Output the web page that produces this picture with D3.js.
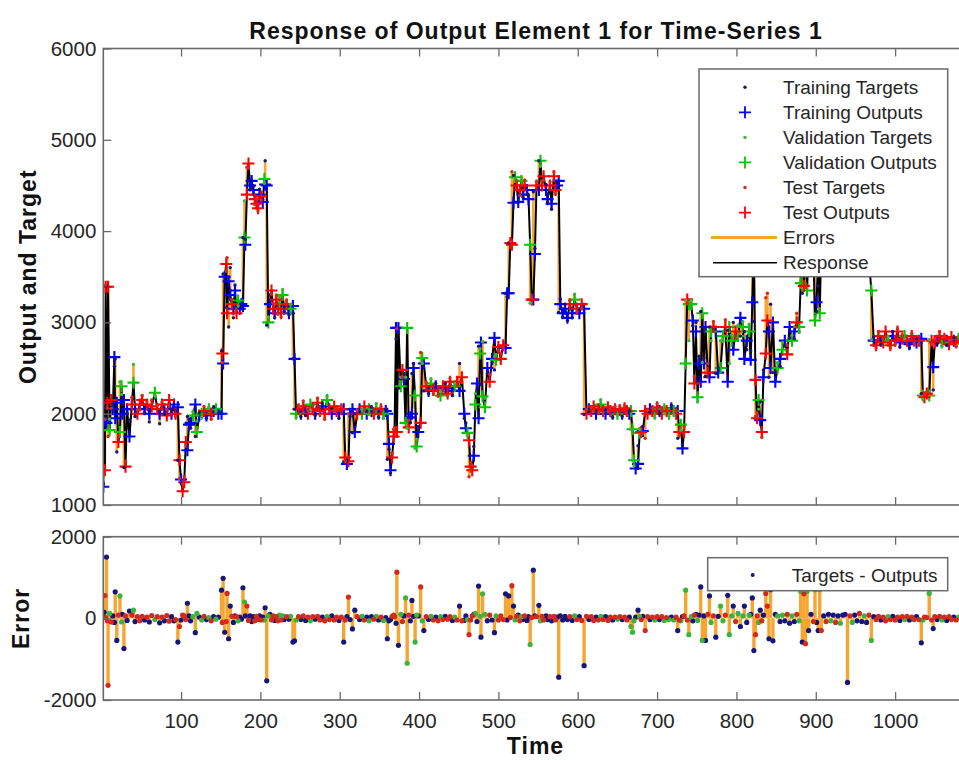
<!DOCTYPE html>
<html>
<head>
<meta charset="utf-8">
<script src="https://cdn.jsdelivr.net/npm/d3@7/dist/d3.min.js"></script>
<style>
  body { margin: 0; background: #fff; }
  svg { display: block; }
  text { font-family: "Liberation Sans", Arial, Helvetica, sans-serif; }
</style>
</head>
<body>
<svg id="chart" width="959" height="760"></svg>
<script>
// Time step of every sample
const timeSteps = [
  2,3,4,5,6,7,8,10,12,14,
  16,17,19,21,23,25,26,28,30,32,
  35,38,40,42,45,48,51,54,57,60,
  63,67,70,73,76,79,82,85,88,91,
  93,96,98,100,102,104,106,108,110,112,
  115,118,120,123,126,129,132,135,138,141,
  144,147,151,152,153,155,157,158,160,162,
  164,166,168,170,172,174,176,178,180,181,
  183,185,187,189,191,193,195,197,199,201,
  203,205,206,208,210,212,214,216,218,220,
  222,224,226,228,230,233,236,238,241,243,
  245,248,251,254,257,260,263,266,269,272,
  275,278,281,284,287,290,293,296,299,302,
  305,307,309,311,313,316,319,322,325,328,
  331,334,337,340,343,346,349,352,355,358,
  360,362,364,366,368,369,371,372,374,377,
  379,381,383,385,387,389,391,393,395,397,
  399,402,404,406,409,412,415,418,421,424,
  427,430,433,436,439,442,445,448,451,454,
  457,459,461,463,465,467,469,471,473,475,
  477,478,480,483,486,489,492,495,497,500,
  503,506,509,511,513,515,517,519,521,523,
  525,527,529,531,533,536,538,540,542,544,
  546,548,551,553,555,557,560,562,565,567,
  570,572,574,576,578,581,584,587,590,593,
  596,599,602,605,608,611,614,617,620,623,
  626,629,632,635,638,641,644,647,650,653,
  656,659,662,665,667,669,671,673,676,678,
  680,682,685,688,691,694,697,700,703,706,
  709,712,715,718,721,724,726,728,730,732,
  734,736,738,740,743,745,747,749,751,753,
  755,757,759,761,764,766,768,771,774,777,
  780,783,786,789,791,794,796,799,802,805,
  808,810,813,816,818,820,822,824,826,828,
  830,832,834,837,839,841,843,846,849,852,
  855,858,861,864,867,870,873,876,879,881,
  883,885,887,889,891,894,897,899,901,903,
  905,907,910,913,916,919,922,925,928,931,
  934,937,940,943,946,949,952,955,958,961,
  964,967,970,973,976,979,982,985,988,991,
  994,997,1000,1003,1006,1009,1012,1015,1018,1021,
  1024,1027,1030,1033,1035,1037,1040,1043,1046,1048,
  1050,1053,1056,1059,1062,1065,1068,1071,1074,1077,
  1080,1083,1086,1089,1092
];

// Network outputs
const outputs = [
  1200,1930,1380,3390,1900,2120,3390,1820,2150,2050,
  2620,1950,2120,1690,1800,2300,2000,2150,1420,2050,
  1750,2100,2340,2050,2000,2100,2150,2050,2100,2000,
  2080,2230,2050,2000,2100,2050,1980,2150,2000,2100,
  2000,2070,1490,1280,1150,1250,1690,1600,1880,1900,
  1980,2100,1800,1980,2000,2030,1980,2050,2000,2030,
  2050,2000,2000,2660,2550,3500,3640,3100,3450,3300,
  3200,3150,3350,3100,3240,3150,3200,3180,3930,3850,
  4400,4740,4500,4550,4450,4350,4300,4250,4400,4380,
  4320,4570,4510,4500,3000,3200,3350,3150,3100,3250,
  3150,3200,3100,3300,3150,3200,3100,3150,3180,2600,
  2000,2050,2000,2080,2030,2000,2100,2050,2000,2120,
  2030,2080,2000,2150,2050,2000,2080,2030,2000,2050,
  2050,1520,1450,1480,2000,2050,1800,2000,2050,2000,
  2080,2000,2050,2030,2000,2060,2000,2050,2000,2030,
  2000,1670,1380,1520,1750,1800,2940,1800,2940,2300,
  2480,2380,1900,2940,1850,1960,2000,2500,2200,1640,
  1800,1900,2610,2550,2300,2250,2330,2260,2300,2250,
  2200,2300,2280,2220,2350,2250,2300,2350,2250,2400,
  2000,1840,1790,1710,1420,1380,1540,2100,2330,1950,
  2660,2780,2190,2070,2500,2350,2600,2830,2590,2730,
  2600,2750,2720,3320,3320,3870,3850,4310,4590,4500,
  4320,4450,4550,4400,4500,4450,4350,3850,3250,3250,
  3750,4500,4450,4770,4500,4600,4450,4350,4500,4300,
  4600,4450,4500,4550,3200,3100,3150,3050,3200,3100,
  3250,3150,3100,3200,3150,2000,2050,2030,2080,2000,
  2050,2100,2030,2000,2070,2030,2000,2050,2000,2040,
  2000,2060,2030,2000,2030,1830,1490,1400,1450,1790,
  1800,1810,2030,2000,2050,2030,2000,2070,2030,2000,
  2050,2030,2000,2060,2030,2000,2030,1800,1880,1620,
  1800,2550,3250,3200,3200,3020,2330,2900,2180,2550,
  2350,3100,2550,2950,2450,2400,2900,2950,2900,2450,
  2500,2850,2950,2350,2950,2800,2700,2900,2850,3050,
  2950,2600,2800,2900,2590,3220,3800,2370,1950,2150,
  1930,1800,2400,2660,3020,2900,2500,3000,2350,2500,
  2600,2700,2800,2650,2950,2800,2900,3000,2950,3430,
  3900,3400,4000,3350,3900,3700,3800,3020,3220,3700,
  3100,3900,4100,4300,4200,4400,4250,4500,4350,4200,
  4100,4300,5300,3800,4000,3900,4100,3950,3800,3900,
  3750,3700,3350,2800,2750,2850,2800,2780,2900,2800,
  2750,2850,2800,2900,2780,2820,2850,2800,2760,2850,
  2800,2780,2800,2820,2200,2180,2220,2200,2800,2510,
  2780,2800,2850,2780,2820,2800,2760,2840,2800,2780,
  2820,2800,2850,2800,2780
];

// Targets - Outputs
const errors = [
  30,150,560,20,1500,-60,-1640,120,-90,60,
  -100,650,-540,80,550,-90,100,-740,60,-50,
  180,80,200,-80,40,-60,50,-40,30,-90,
  70,-30,40,-110,30,-60,70,-70,40,-60,
  -30,-580,-200,-40,80,60,-30,370,60,-60,
  40,-350,120,30,-40,50,-30,20,-60,40,
  -20,30,690,-100,980,-340,-80,610,-500,300,
  50,-100,60,40,-60,30,-20,750,400,60,
  300,-50,60,-80,40,-60,50,-30,60,-40,
  30,-40,260,-1530,60,100,-40,60,-50,40,
  -60,80,-40,60,-30,40,-20,50,-580,-550,
  -40,40,-30,60,-50,30,-60,40,-20,50,
  -40,30,-60,40,-30,60,-40,30,-50,30,
  -580,-40,40,520,-30,-260,200,40,-30,50,
  -40,30,-60,40,-20,50,-40,30,-50,20,
  -500,-60,-30,50,80,40,-120,1130,-660,100,
  -80,60,500,-1100,80,-60,440,50,-580,80,
  60,770,-60,-300,40,-30,50,-40,30,-60,
  40,-30,50,-20,40,-50,30,-40,300,-60,
  -50,60,-30,-400,-40,60,100,120,-80,790,
  50,-460,600,100,-60,80,-40,-350,60,-40,
  60,-30,600,-40,550,20,800,300,-40,50,
  80,-60,40,-30,60,-50,40,-640,20,1180,
  60,40,320,-60,50,-40,60,-30,40,-60,
  50,-40,30,-1440,60,-40,50,-30,40,-50,
  60,-30,40,-50,-1160,50,-30,40,-50,30,
  -40,50,-30,40,-50,30,-40,30,-20,40,
  -30,30,-40,30,-200,-340,-60,30,200,40,
  -30,50,-300,40,-30,30,-40,40,-30,40,
  -50,20,-30,30,-40,30,-300,-40,-60,40,
  60,690,-40,-400,40,-60,80,100,-50,80,
  770,-540,60,-540,100,550,-100,60,-460,50,
  300,-60,80,565,-400,60,300,-80,120,-200,
  60,300,-100,80,100,500,-790,-400,60,-100,
  200,-60,80,610,300,-500,700,-550,100,60,
  -80,80,-60,100,-120,60,-80,100,-60,660,
  -580,600,-620,660,-300,100,-80,700,-100,-300,
  700,-300,60,-80,100,-60,80,-100,60,-120,
  80,100,-1570,60,-100,80,-60,120,-80,60,
  -100,80,-540,40,-30,50,-40,30,-60,40,
  -30,50,-40,30,-50,40,-30,50,-40,30,
  -30,40,-30,-600,-40,30,20,610,-40,-250,
  40,-30,50,-40,30,-50,40,-30,30,-40,
  30,-20,40,-30,30
];

// 0 = training, 1 = validation, 2 = test
const splitIndex = [
  0,0,2,2,0,2,2,1,2,0,
  0,0,0,2,1,1,0,0,2,0,
  0,2,1,0,2,2,2,0,2,0,
  2,1,2,0,2,0,2,2,0,0,
  2,0,2,0,2,2,2,0,0,0,
  1,0,1,0,1,2,0,1,2,0,
  1,0,0,2,0,0,2,2,0,0,
  2,0,0,2,1,0,0,0,1,0,
  2,2,0,0,0,2,2,2,0,2,
  0,1,0,0,1,0,2,2,0,2,
  2,1,2,1,0,2,0,1,0,0,
  1,2,0,2,0,2,1,2,0,2,
  2,0,2,1,2,0,2,2,0,2,
  0,2,0,2,0,0,0,2,0,1,
  2,0,1,0,2,1,0,2,1,0,
  0,0,0,2,2,2,0,2,0,1,
  2,0,1,1,2,0,0,0,1,1,
  0,2,1,0,2,0,1,2,0,2,
  1,2,0,2,2,0,1,2,0,2,
  0,0,1,2,2,2,0,1,0,0,
  1,0,1,1,0,2,0,0,1,2,
  2,2,0,0,0,2,2,0,1,2,
  0,2,1,0,2,0,0,1,2,0,
  0,2,0,1,2,2,0,0,2,0,
  2,2,0,0,0,0,0,0,2,0,
  1,2,0,2,0,2,0,2,2,0,
  2,1,2,0,2,2,0,2,1,2,
  0,2,2,0,1,1,1,0,0,1,
  2,0,2,2,0,2,1,2,0,2,
  1,2,1,0,1,2,0,2,1,0,
  2,1,2,1,1,0,2,0,1,0,
  0,1,0,0,2,0,1,2,0,0,
  1,1,2,0,1,1,0,2,1,0,
  1,0,0,1,0,0,0,2,2,1,
  0,2,0,2,2,0,0,0,0,1,
  0,1,0,2,0,1,0,2,1,1,
  0,2,2,1,0,0,2,1,0,0,
  1,2,0,2,0,1,0,2,0,1,
  0,0,0,2,1,0,0,2,0,1,
  0,2,1,0,2,2,0,2,2,1,
  2,0,2,2,0,2,1,2,0,2,
  2,0,2,0,1,2,2,1,2,0,
  2,0,2,1,2,0,2,2,0,2,
  1,2,0,2,2
];

const splitNames = ["Training", "Validation", "Test"];
const timeTicks = [100, 200, 300, 400, 500, 600, 700, 800, 900, 1000];
const responseTicks = [1000, 2000, 3000, 4000, 5000, 6000];
const errorTicks = [-2000, 0, 2000];

const outputColors = ["#0000ff", "#00c800", "#ff0000"];
const targetColors = ["#16167a", "#3cb43c", "#d42a1e"];
const errorColor = "#f7a531";
const axisColor = "#6a6a6a";
const textColor = "#262626";

const svg = d3.select("#chart");

// Layout of the two stacked axes
const plotLeft = 103.3, plotRight = 968.9;
const topBox = { top: 48.5, bottom: 505 };
const errBox = { top: 536.7, bottom: 700 };

const x = d3.scaleLinear().domain([2, 1093]).range([plotLeft, plotRight]);
const yTop = d3.scaleLinear().domain([1000, 6000]).range([topBox.bottom, topBox.top]);
const yErr = d3.scaleLinear().domain([-2000, 2000]).range([errBox.bottom, errBox.top]);

const n = Math.min(timeSteps.length, outputs.length, errors.length, splitIndex.length);
const samples = d3.range(n).map(i => ({
  t: timeSteps[i],
  out: outputs[i],
  err: errors[i],
  tgt: outputs[i] + errors[i],
  split: splitIndex[i]
}));

const defs = svg.append("defs");
function addClip(id, box) {
  defs.append("clipPath").attr("id", id).append("rect")
    .attr("x", plotLeft).attr("y", box.top)
    .attr("width", plotRight - plotLeft).attr("height", box.bottom - box.top);
}
addClip("clipTop", topBox);
addClip("clipErr", errBox);

const plusPath = (cx, cy, r) => `M${cx - r},${cy}H${cx + r}M${cx},${cy - r}V${cy + r}`;

// ---------- Response panel ----------
const gTop = svg.append("g").attr("clip-path", "url(#clipTop)");

// error segments between target and output
gTop.append("g").selectAll("line").data(samples).join("line")
  .attr("x1", d => x(d.t)).attr("x2", d => x(d.t))
  .attr("y1", d => yTop(d.tgt)).attr("y2", d => yTop(d.out))
  .attr("stroke", errorColor).attr("stroke-width", 2.6);

// response line through the outputs
gTop.append("path").datum(samples)
  .attr("fill", "none").attr("stroke", "#000").attr("stroke-width", 2)
  .attr("d", d3.line().x(d => x(d.t)).y(d => yTop(d.out)));

// outputs as plus markers, targets as dots, one layer per split
[0, 1, 2].forEach(s => {
  const subset = samples.filter(d => d.split === s);
  gTop.append("g").selectAll("path").data(subset).join("path")
    .attr("d", d => plusPath(x(d.t), yTop(d.out), 6))
    .attr("stroke", outputColors[s]).attr("stroke-width", 2.1).attr("fill", "none");
});
[0, 1, 2].forEach(s => {
  const subset = samples.filter(d => d.split === s);
  gTop.append("g").selectAll("circle").data(subset).join("circle")
    .attr("cx", d => x(d.t)).attr("cy", d => yTop(d.tgt)).attr("r", 1.7)
    .attr("fill", targetColors[s]);
});

// ---------- Error panel ----------
const gErr = svg.append("g").attr("clip-path", "url(#clipErr)");
gErr.append("g").selectAll("line").data(samples).join("line")
  .attr("x1", d => x(d.t)).attr("x2", d => x(d.t))
  .attr("y1", yErr(0)).attr("y2", d => yErr(d.err))
  .attr("stroke", errorColor).attr("stroke-width", 3.4);
[0, 1, 2].forEach(s => {
  const subset = samples.filter(d => d.split === s);
  gErr.append("g").selectAll("circle").data(subset).join("circle")
    .attr("cx", d => x(d.t)).attr("cy", d => yErr(d.err)).attr("r", 2.6)
    .attr("fill", targetColors[s]);
});

// ---------- Axes ----------
function styleAxis(g) {
  g.select(".domain").remove();
  g.selectAll(".tick line").attr("stroke", axisColor).attr("stroke-width", 1.3);
  g.selectAll(".tick text").attr("fill", textColor).style("font-size", "20.5px")
    .style("font-family", "'Liberation Sans', Arial, Helvetica, sans-serif");
}
function drawFrame(yScale, yTicks, box, withTimeLabels) {
  const g = svg.append("g");
  g.append("g").attr("transform", `translate(0,${box.bottom})`)
    .call(d3.axisBottom(x).tickValues(timeTicks).tickSize(-8).tickPadding(13)
      .tickFormat(withTimeLabels ? (d => String(d)) : () => ""))
    .call(styleAxis);
  g.append("g").attr("transform", `translate(0,${box.top})`)
    .call(d3.axisTop(x).tickValues(timeTicks).tickSize(-8).tickFormat(() => ""))
    .call(styleAxis);
  g.append("g").attr("transform", `translate(${plotLeft},0)`)
    .call(d3.axisLeft(yScale).tickValues(yTicks).tickSize(-8).tickPadding(7)
      .tickFormat(d => String(d)))
    .call(styleAxis);
  g.append("g").attr("transform", `translate(${plotRight},0)`)
    .call(d3.axisRight(yScale).tickValues(yTicks).tickSize(-8).tickFormat(() => ""))
    .call(styleAxis);
  g.append("rect")
    .attr("x", plotLeft).attr("y", box.top)
    .attr("width", plotRight - plotLeft).attr("height", box.bottom - box.top)
    .attr("fill", "none").attr("stroke", axisColor).attr("stroke-width", 1.6);
}
drawFrame(yTop, responseTicks, topBox, false);
drawFrame(yErr, errorTicks, errBox, true);

// ---------- Titles and labels ----------
const boldText = (sel) => sel.attr("fill", "#111").style("font-weight", "bold")
  .style("font-size", "23px").style("letter-spacing", "1px");

svg.append("text").attr("x", 536).attr("y", 38.5).attr("text-anchor", "middle")
  .text("Response of Output Element 1 for Time-Series 1").call(boldText);
svg.append("text").attr("transform", `translate(36,${(topBox.top + topBox.bottom) / 2}) rotate(-90)`)
  .attr("text-anchor", "middle").text("Output and Target").call(boldText);
svg.append("text").attr("transform", `translate(29,${(errBox.top + errBox.bottom) / 2}) rotate(-90)`)
  .attr("text-anchor", "middle").text("Error").call(boldText);
svg.append("text").attr("x", 535.5).attr("y", 754).attr("text-anchor", "middle")
  .text("Time").call(boldText);

// ---------- Legends ----------
const legendFont = "19px";
const topLegend = svg.append("g");
topLegend.append("rect").attr("x", 699).attr("y", 69).attr("width", 248.7).attr("height", 207.7)
  .attr("fill", "#fff").attr("stroke", axisColor).attr("stroke-width", 1.5);
const legendRows = [];
splitNames.forEach((name, s) => {
  legendRows.push({ label: name + " Targets", kind: "dot", split: s });
  legendRows.push({ label: name + " Outputs", kind: "plus", split: s });
});
legendRows.push({ label: "Errors", kind: "errline" });
legendRows.push({ label: "Response", kind: "respline" });

legendRows.forEach((row, i) => {
  const cy = 87.3 + i * 25.05;
  if (row.kind === "dot") {
    topLegend.append("circle").attr("cx", 745).attr("cy", cy).attr("r", 1.7).attr("fill", targetColors[row.split]);
  } else if (row.kind === "plus") {
    topLegend.append("path").attr("d", plusPath(745, cy, 6))
      .attr("stroke", outputColors[row.split]).attr("stroke-width", 1.8);
  } else if (row.kind === "errline") {
    topLegend.append("line").attr("x1", 711).attr("x2", 777).attr("y1", cy).attr("y2", cy)
      .attr("stroke", errorColor).attr("stroke-width", 3);
  } else {
    topLegend.append("line").attr("x1", 713).attr("x2", 777).attr("y1", cy).attr("y2", cy)
      .attr("stroke", "#000").attr("stroke-width", 1.5);
  }
  topLegend.append("text").attr("x", 783).attr("y", cy).attr("dy", "0.35em")
    .attr("fill", textColor).style("font-size", legendFont).text(row.label);
});

const errLegend = svg.append("g");
errLegend.append("rect").attr("x", 707.7).attr("y", 557.7).attr("width", 240).attr("height", 33)
  .attr("fill", "#fff").attr("stroke", axisColor).attr("stroke-width", 1.5);
errLegend.append("circle").attr("cx", 752.7).attr("cy", 575).attr("r", 2).attr("fill", targetColors[0]);
errLegend.append("text").attr("x", 791.7).attr("y", 575).attr("dy", "0.35em")
  .attr("fill", textColor).style("font-size", legendFont).text("Targets - Outputs");
</script>
</body>
</html>
